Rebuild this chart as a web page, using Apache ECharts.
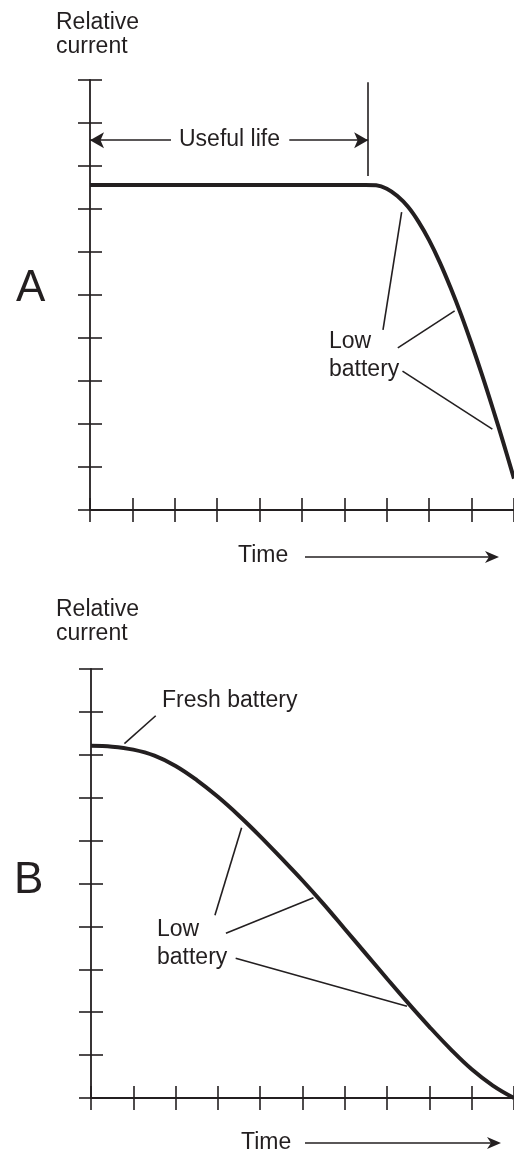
<!DOCTYPE html>
<html>
<head>
<meta charset="utf-8">
<script src="https://cdn.jsdelivr.net/npm/echarts@6/dist/echarts.min.js"></script>
<style>
  html, body { margin: 0; padding: 0; background: #ffffff; }
  #chart { width: 514px; height: 1155px; }
</style>
</head>
<body>
<div id="chart"></div>
<script>
// Panel A: current stays level through the useful life, then falls off sharply
const timeA = [0, 2, 4, 6, 6.5, 6.75, 7, 7.25, 7.5, 7.75, 8, 8.25, 8.5, 8.75, 9, 9.25, 9.5, 9.75, 10];
const currentA = [7.56, 7.56, 7.56, 7.56, 7.56, 7.55, 7.47, 7.3, 7.05, 6.7, 6.27, 5.76, 5.18, 4.55, 3.86, 3.13, 2.36, 1.56, 0.73];

// Panel B: current declines gradually from a fresh battery onward
const timeB = [0, 0.5, 1, 1.5, 2, 2.5, 3, 3.5, 4, 4.5, 5, 5.5, 6, 6.5, 7, 7.5, 8, 8.5, 9, 9.5, 10];
const currentB = [8.21, 8.19, 8.12, 7.98, 7.74, 7.41, 7.02, 6.58, 6.1, 5.59, 5.07, 4.52, 3.94, 3.36, 2.78, 2.21, 1.66, 1.14, 0.67, 0.29, 0];

// Axis range (ticks every unit, no tick labels)
const axisMin = 0;
const axisMax = 10;
const tickStep = 1;

// End of the useful life in panel A, and the height of its dimension arrow
const usefulLifeEnd = 6.56;
const usefulLifeArrowY = 8.6;
const usefulLifeBar = [7.77, 9.95];
const usefulLifeGap = [1.91, 4.70];

// Leader lines (time, current pairs) from the callouts to the curves
const leadersA = [
  [[6.91, 4.19], [7.35, 6.93]],
  [[7.26, 3.77], [8.60, 4.63]],
  [[7.37, 3.23], [9.49, 1.88]]
];
const leadersB = [
  [[0.79, 8.26], [1.53, 8.91]],
  [[2.93, 4.26], [3.56, 6.30]],
  [[3.19, 3.84], [5.26, 4.67]],
  [[3.42, 3.26], [7.47, 2.14]]
];

const ink = '#231f20';
const fontFamily = '"Liberation Sans", Arial, Helvetica, sans-serif';
const textFont = '23px ' + fontFamily;
const bigFont = '44px ' + fontFamily;

function pairs(xs, ys) {
  return xs.map((x, i) => [x, ys[i]]);
}

function axisPair(dim, gridIndex) {
  const base = {
    gridIndex: gridIndex,
    type: 'value',
    min: axisMin,
    max: axisMax,
    interval: tickStep,
    position: dim === 'x' ? 'bottom' : 'left',
    axisLabel: { show: false },
    splitLine: { show: false },
    silent: true
  };
  // outer half of each tick, with the axis line
  const outer = Object.assign({}, base, {
    axisLine: { show: true, onZero: false, lineStyle: { color: ink, width: 1.8 } },
    axisTick: { show: true, inside: false, length: 12, lineStyle: { color: ink, width: 1.6 } }
  });
  // inner half of each tick, so the ticks cross the axis
  const inner = Object.assign({}, base, {
    axisLine: { show: false, onZero: false },
    axisTick: { show: true, inside: true, length: 12, lineStyle: { color: ink, width: 1.6 } }
  });
  return [outer, inner];
}

function leaderLines(list) {
  return list.map(seg => [{ coord: seg[0] }, { coord: seg[1] }]);
}

const arrowHead = { symbol: 'arrow', symbolSize: [12, 14] };

const option = {
  animation: false,
  backgroundColor: '#ffffff',
  grid: [
    { left: 90, top: 80, width: 430, height: 430 },
    { left: 91, top: 669, width: 430, height: 429 }
  ],
  xAxis: axisPair('x', 0).concat(axisPair('x', 1)),
  yAxis: axisPair('y', 0).concat(axisPair('y', 1)),
  series: [
    {
      type: 'line',
      xAxisIndex: 0,
      yAxisIndex: 0,
      data: pairs(timeA, currentA),
      smooth: 0.4,
      showSymbol: false,
      lineStyle: { color: ink, width: 4 },
      silent: true,
      markLine: {
        silent: true,
        symbol: ['none', 'none'],
        label: { show: false },
        lineStyle: { color: ink, width: 1.6, type: 'solid' },
        emphasis: { disabled: true },
        data: leaderLines(leadersA).concat([
          [{ coord: [usefulLifeEnd, usefulLifeBar[0]] }, { coord: [usefulLifeEnd, usefulLifeBar[1]] }],
          [{ coord: [usefulLifeGap[0], usefulLifeArrowY] },
           Object.assign({ coord: [axisMin, usefulLifeArrowY] }, arrowHead)],
          [{ coord: [usefulLifeGap[1], usefulLifeArrowY] },
           Object.assign({ coord: [usefulLifeEnd, usefulLifeArrowY] }, arrowHead)]
        ])
      }
    },
    {
      type: 'line',
      xAxisIndex: 2,
      yAxisIndex: 2,
      data: pairs(timeB, currentB),
      smooth: 0.4,
      showSymbol: false,
      lineStyle: { color: ink, width: 4 },
      silent: true,
      markLine: {
        silent: true,
        symbol: ['none', 'none'],
        label: { show: false },
        lineStyle: { color: ink, width: 1.6, type: 'solid' },
        emphasis: { disabled: true },
        data: leaderLines(leadersB)
      }
    }
  ],
  graphic: [
    // panel A captions
    { type: 'text', x: 56, y: 35, style: { text: 'Relative\ncurrent', font: textFont, lineHeight: 24, fill: ink, align: 'left', verticalAlign: 'middle' } },
    { type: 'text', x: 16, y: 289, style: { text: 'A', font: bigFont, fill: ink, align: 'left', verticalAlign: 'middle' } },
    { type: 'text', x: 179, y: 140, style: { text: 'Useful life', font: textFont, fill: ink, align: 'left', verticalAlign: 'middle' } },
    { type: 'text', x: 329, y: 356, style: { text: 'Low\nbattery', font: textFont, lineHeight: 28, fill: ink, align: 'left', verticalAlign: 'middle' } },
    { type: 'text', x: 238, y: 556, style: { text: 'Time', font: textFont, fill: ink, align: 'left', verticalAlign: 'middle' } },
    { type: 'line', shape: { x1: 305, y1: 557, x2: 492, y2: 557 }, style: { stroke: ink, lineWidth: 1.6 } },
    { type: 'polygon', shape: { points: [[499, 557], [485, 551], [489, 557], [485, 563]] }, style: { fill: ink } },

    // panel B captions
    { type: 'text', x: 56, y: 622, style: { text: 'Relative\ncurrent', font: textFont, lineHeight: 24, fill: ink, align: 'left', verticalAlign: 'middle' } },
    { type: 'text', x: 14, y: 881, style: { text: 'B', font: bigFont, fill: ink, align: 'left', verticalAlign: 'middle' } },
    { type: 'text', x: 162, y: 701, style: { text: 'Fresh battery', font: textFont, fill: ink, align: 'left', verticalAlign: 'middle' } },
    { type: 'text', x: 157, y: 944, style: { text: 'Low\nbattery', font: textFont, lineHeight: 28, fill: ink, align: 'left', verticalAlign: 'middle' } },
    { type: 'text', x: 241, y: 1143, style: { text: 'Time', font: textFont, fill: ink, align: 'left', verticalAlign: 'middle' } },
    { type: 'line', shape: { x1: 305, y1: 1143, x2: 494, y2: 1143 }, style: { stroke: ink, lineWidth: 1.6 } },
    { type: 'polygon', shape: { points: [[501, 1143], [487, 1137], [491, 1143], [487, 1149]] }, style: { fill: ink } }
  ]
};

const chart = echarts.init(document.getElementById('chart'), null, { renderer: 'canvas' });
chart.setOption(option);
</script>
</body>
</html>
